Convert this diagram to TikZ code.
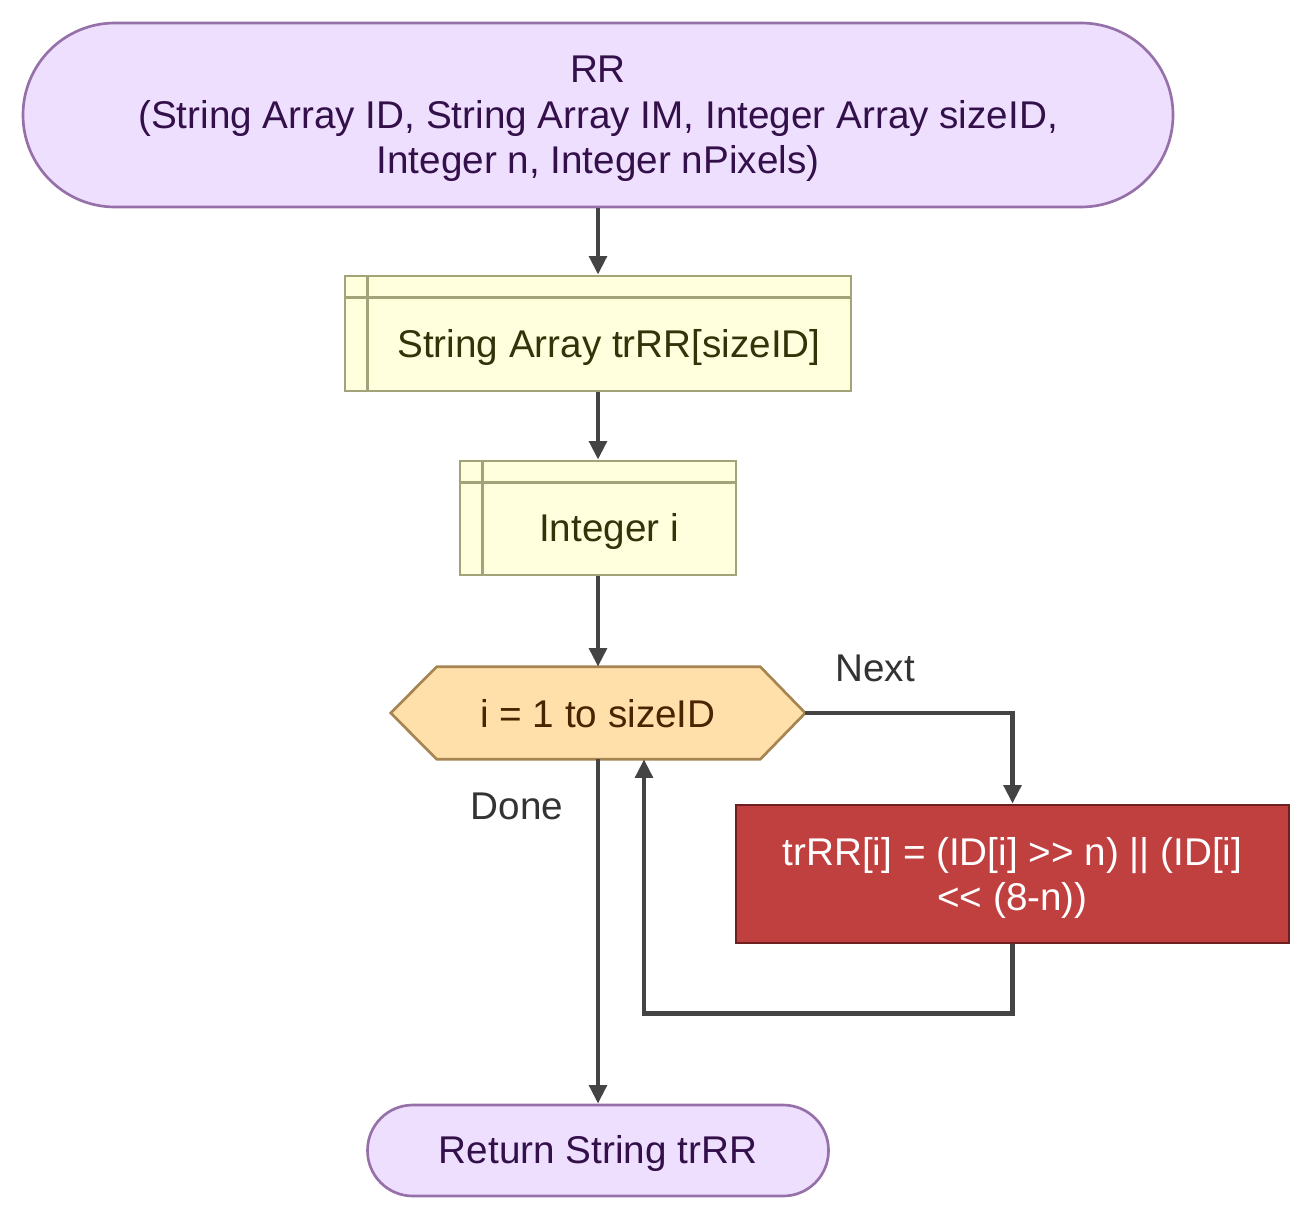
\documentclass[tikz,border=0pt]{standalone}
\usepackage{fontspec}
\setmainfont{Liberation Sans}[Ligatures=TeXOff]
\usetikzlibrary{arrows.meta,calc}
\definecolor{termfill}{HTML}{EEDFFE}
\definecolor{termdraw}{HTML}{9670A8}
\definecolor{termtext}{HTML}{33104A}
\definecolor{declfill}{HTML}{FFFFDD}
\definecolor{decldraw}{HTML}{A3A37A}
\definecolor{decltext}{HTML}{33330A}
\definecolor{hexfill}{HTML}{FFDFAA}
\definecolor{hexdraw}{HTML}{A68552}
\definecolor{hextext}{HTML}{4A2300}
\definecolor{redfill}{HTML}{C04040}
\definecolor{reddraw}{HTML}{6E1F1F}
\definecolor{arrowcol}{HTML}{444444}
\definecolor{labcol}{HTML}{333333}
\begin{document}
\begin{tikzpicture}[x=0.75pt,y=-0.75pt,
  font=\fontsize{29}{34}\selectfont,
  term/.style={draw=termdraw,fill=termfill,line width=2pt,inner sep=0pt},
  termtxt/.style={text=termtext,align=center,inner sep=0pt},
  decl/.style={draw=decldraw,fill=declfill,line width=2pt,inner sep=0pt},
  decltxt/.style={text=decltext,inner sep=0pt},
  proc/.style={draw=reddraw,fill=redfill,line width=2pt,inner sep=0pt},
  proctxt/.style={text=white,align=center,inner sep=0pt},
  conn/.style={draw=arrowcol,line width=3.5pt,-{Triangle[length=14pt,width=13pt]}},
  lab/.style={text=labcol,inner sep=0pt}]
\useasboundingbox (0,0) rectangle (1312,1220);

% start terminal
\node[term,minimum width=862.5pt,minimum height=138pt,rounded corners=69pt] (start) at (598,115) {};
\node[termtxt] (startt) at (598,119)
  {RR\\(String Array ID, String Array IM, Integer Array sizeID,\\Integer n, Integer nPixels)};

% declaration 1
\node[decl,minimum width=379.5pt,minimum height=86.25pt] (d1) at (598,333.5) {};
\draw[decldraw,line width=2pt] ($(d1.north west)+(24,0)$) -- ($(d1.south west)+(24,0)$);
\draw[decldraw,line width=2pt] ($(d1.north west)+(0,23)$) -- ($(d1.north east)+(0,23)$);
\node[decltxt] (d1t) at (609,347) {String Array trRR[sizeID]};

% declaration 2
\node[decl,minimum width=207pt,minimum height=85.5pt] (d2) at (598,518) {};
\draw[decldraw,line width=2pt] ($(d2.north west)+(24,0)$) -- ($(d2.south west)+(24,0)$);
\draw[decldraw,line width=2pt] ($(d2.north west)+(0,23)$) -- ($(d2.north east)+(0,23)$);
\node[decltxt] (d2t) at (609,531) {Integer i};

% loop hexagon
\node[minimum width=310.5pt,minimum height=69pt,inner sep=0pt] (hx) at (598,713) {};
\draw[draw=hexdraw,fill=hexfill,line width=2pt]
  (hx.west) -- ($(hx.north west)+(46,0)$) -- ($(hx.north east)+(-45,0)$) -- (hx.east)
  -- ($(hx.south east)+(-45,0)$) -- ($(hx.south west)+(46,0)$) -- cycle;
\node[text=hextext,inner sep=0pt] (hxt) at (598,714) {i = 1 to sizeID};

% process
\node[proc,minimum width=414.75pt,minimum height=103.5pt] (pr) at (1012.5,874) {};
\node[proctxt] (prt) at (1012.5,878)
  {trRR[i] = (ID[i] >> n) || (ID[i]\\<< (8-n))};

% end terminal
\node[term,minimum width=345.75pt,minimum height=68.25pt,rounded corners=34pt] (stop) at (598,1150.5) {};
\node[termtxt] (stopt) at (598,1153) {Return String trRR};

% connectors
\draw[conn] (start.south) -- (d1.north);
\draw[conn] (d1.south) -- (d2.north);
\draw[conn] (d2.south) -- (hx.north);
\draw[conn] (hx.east) -| (pr.north);
\draw[conn] (pr.south) -- ++(0,69) -| ($(hx.south)+(46,0)$);
\draw[conn] (hx.south) -- (stop.north);

% labels
\node[lab] (lnext) at (875,668) {Next};
\node[lab] (ldone) at (517,806) {Done};
\end{tikzpicture}
\end{document}
